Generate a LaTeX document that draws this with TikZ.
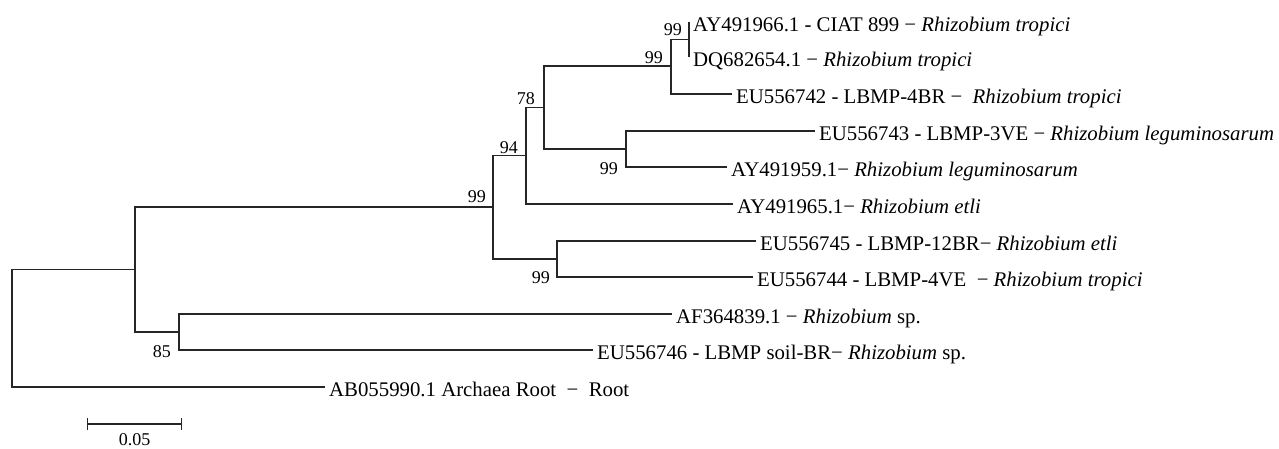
\documentclass[tikz,border=0pt]{standalone}
\usepackage{fontspec}
\setmainfont{Liberation Serif}
\usepackage{tikz}
\usetikzlibrary{calc}
\usetikzlibrary{arrows.meta}
\tikzstyle{every node}=[font=\fontsize{20.8}{25}\selectfont]
\tikzstyle{taxon}=[anchor=west, inner xsep=4pt, inner ysep=0pt, text height=18pt, text depth=0pt]
\tikzstyle{boot}=[font=\fontsize{18}{21}\selectfont, inner sep=0pt]
\tikzstyle{branch}=[line width=1.1pt, black!85]
\newcommand{\rhz}[1]{\textit{Rhizobium #1}}

\begin{document}
\begin{tikzpicture}[x=1pt, y=-1pt]
            \useasboundingbox (0,0) rectangle (1279,448);
            % internal nodes
            \coordinate (root) at (12,328.5);
            \coordinate (n1) at (135,269.5);
            \coordinate (n85) at (179,332);
            \coordinate (n99a) at (493,207);
            \coordinate (n94) at (526,155.5);
            \coordinate (n78) at (544,107.5);
            \coordinate (n99b) at (671,66);
            \coordinate (n99c) at (689,39.5);
            \coordinate (n99d) at (626,149);
            \coordinate (n99e) at (557,259);
            % taxa
            \node[taxon] (l1) at (689,22) {AY491966.1 - CIAT 899 − \rhz{tropici}};
            \node[taxon] (l2) at (689,57) {DQ682654.1 − \rhz{tropici}};
            \node[taxon] (l3) at (732,94) {EU556742 - LBMP-4BR −\ \ \rhz{tropici}};
            \node[taxon] (l4) at (815,131) {EU556743 - LBMP-3VE − \rhz{leguminosarum}};
            \node[taxon] (l5) at (727,167) {AY491959.1− \rhz{leguminosarum}};
            \node[taxon] (l6) at (733,204) {AY491965.1− \rhz{etli}};
            \node[taxon] (l7) at (756,241) {EU556745 - LBMP-12BR− \rhz{etli}};
            \node[taxon] (l8) at (753,277) {EU556744 - LBMP-4VE \ − \rhz{tropici}};
            \node[taxon] (l9) at (672,314) {AF364839.1 − \textit{Rhizobium} sp.};
            \node[taxon] (l10) at (593,350) {EU556746 - LBMP soil-BR− \textit{Rhizobium} sp.};
            \node[taxon] (l11) at (325,387) {AB055990.1 Archaea Root \ − \ Root};
            % branches
            \draw[branch] (root) |- (n1) (root) |- (l11.west);
            \draw[branch] (n1) |- (n99a) (n1) |- (n85);
            \draw[branch] (n85) |- (l9.west) (n85) |- (l10.west);
            \draw[branch] (n99a) |- (n94) (n99a) |- (n99e);
            \draw[branch] (n99e) |- (l7.west) (n99e) |- (l8.west);
            \draw[branch] (n94) |- (n78) (n94) |- (l6.west);
            \draw[branch] (n78) |- (n99b) (n78) |- (n99d);
            \draw[branch] (n99d) |- (l4.west) (n99d) |- (l5.west);
            \draw[branch] (n99b) |- (n99c) (n99b) |- (l3.west);
            \draw[branch] (n99c) |- (l1.west) (n99c) |- (l2.west);
            % bootstrap values
            \node[boot, anchor=south east] (b1) at ([xshift=-7pt,yshift=4pt]n99c) {99};
            \node[boot, anchor=south east] (b2) at ([xshift=-8pt,yshift=2pt]n99b) {99};
            \node[boot, anchor=south east] (b3) at ([xshift=-9pt,yshift=3pt]n78) {78};
            \node[boot, anchor=south east] (b4) at ([xshift=-8pt,yshift=2pt]n94) {94};
            \node[boot, anchor=south east] (b5) at ([xshift=-7pt,yshift=4pt]n99a) {99};
            \node[boot, anchor=east] (b6) at ([xshift=-8pt,yshift=-20pt]n99d) {99};
            \node[boot, anchor=east] (b7) at ([xshift=-7pt,yshift=-19pt]n99e) {99};
            \node[boot, anchor=east] (b8) at ([xshift=-8pt,yshift=-20pt]n85) {85};
            % scale bar
            \coordinate (sb0) at (87,424);
            \coordinate (sb1) at (182,424);
            \draw[branch, {Bar[width=12pt]}-{Bar[width=12pt]}] (sb0) -- (sb1);
            \node[boot, anchor=base] (sbl) at (134.5,445) {0.05};
        \end{tikzpicture}
\end{document}
